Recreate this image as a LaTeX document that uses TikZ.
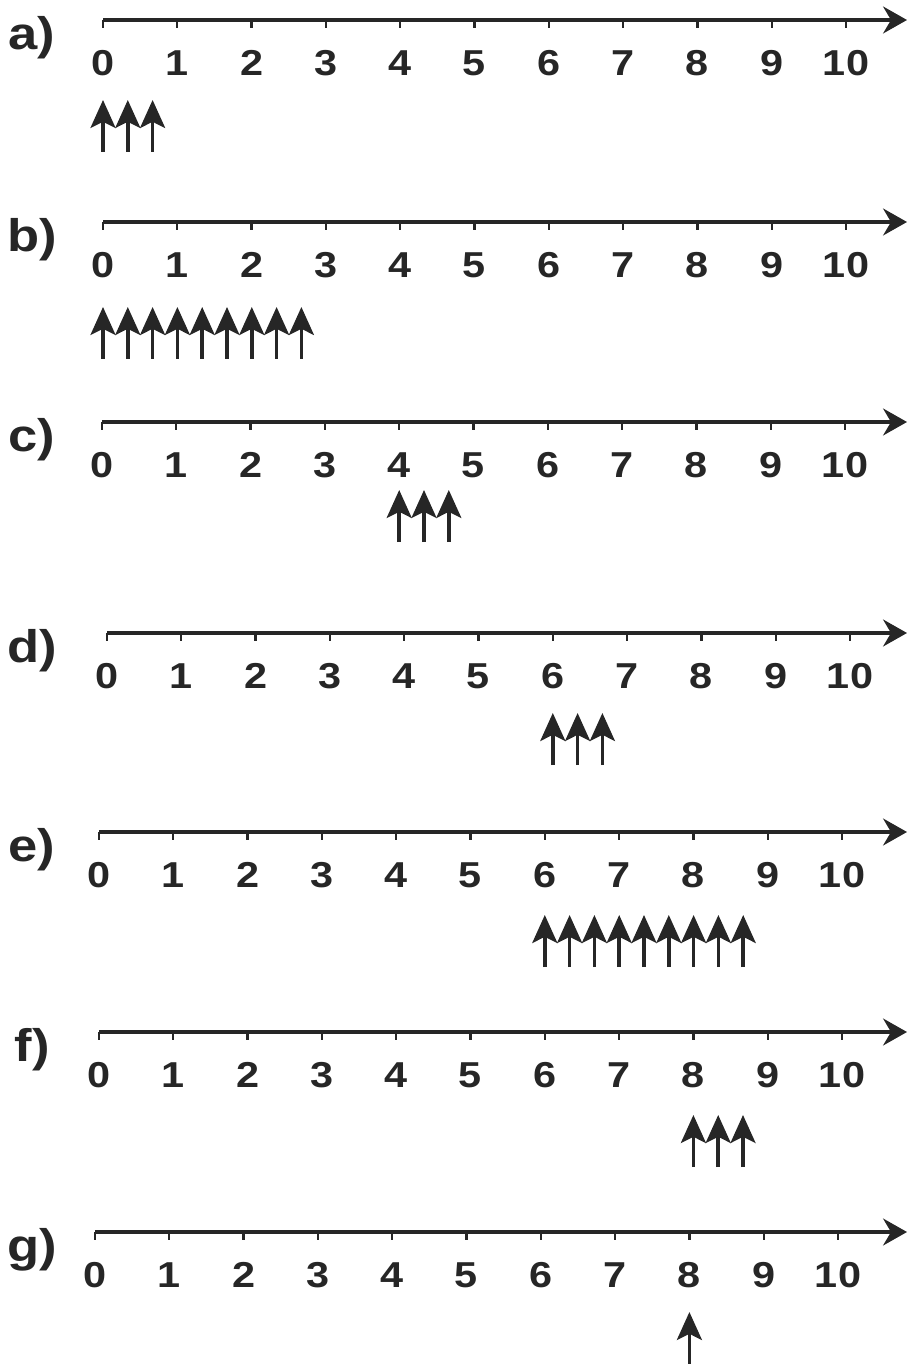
\documentclass[tikz,border=0pt]{standalone}
\usepackage{fontspec}
\setmainfont{Liberation Sans}[FakeStretch=1.15]
\usetikzlibrary{arrows.meta}

\tikzset{
    axisline/.style={line width=2pt, black!85,
        -{Stealth[length=13.6pt,width=15.3pt,inset=4.5pt]}},
    tickmark/.style={line width=1.3pt, black!85},
    spike/.style={line width=2pt, black!85,
        -{Stealth[length=15.9pt,width=14.2pt,inset=3.5pt]}},
    numlabel/.style={font=\fontsize{20.5}{22}\selectfont\bfseries, text=black!85, inner sep=0pt},
    partlabel/.style={font=\fontsize{26}{28}\selectfont\bfseries, text=black!85, inner sep=0pt}
}

\begin{document}
\begin{tikzpicture}[x=0.02cm, y=-0.02cm]
\useasboundingbox (0,0) rectangle (910,1364);

% panel / x of 0 / y of axis / arrow offset / first arrow / arrows
\foreach \name/\xo/\yo/\dy/\first/\n in {a/103/20/80/0/3, b/103/222/85/0/9,
    c/102/422/68/4/3, d/107/633/80/6/3, e/99/832/83/6/9,
    f/99/1032/83/8/3, g/95/1232/80/8/1} {

  % Part label
  \node[partlabel] (part-\name) at (32,\yo+18) {\name)};

  % Axis
  \draw[axisline] (\xo,\yo) -- (907,\yo);

  % Ticks and numbers
  \foreach \k in {0,...,10} {
    \draw[tickmark] (\xo+\k*74.3,\yo) -- ++(0,8);
    \node[numlabel] (num-\name-\k) at (\xo+\k*74.3,\yo+43) {\k};
  }

  % Arrows
  \foreach \j in {1,...,\n} {
    \draw[spike] (\xo+\first*74.3+\j*24.8-24.8,\yo+\dy+52) -- ++(0,-52);
  }
}

\end{tikzpicture}
\end{document}
